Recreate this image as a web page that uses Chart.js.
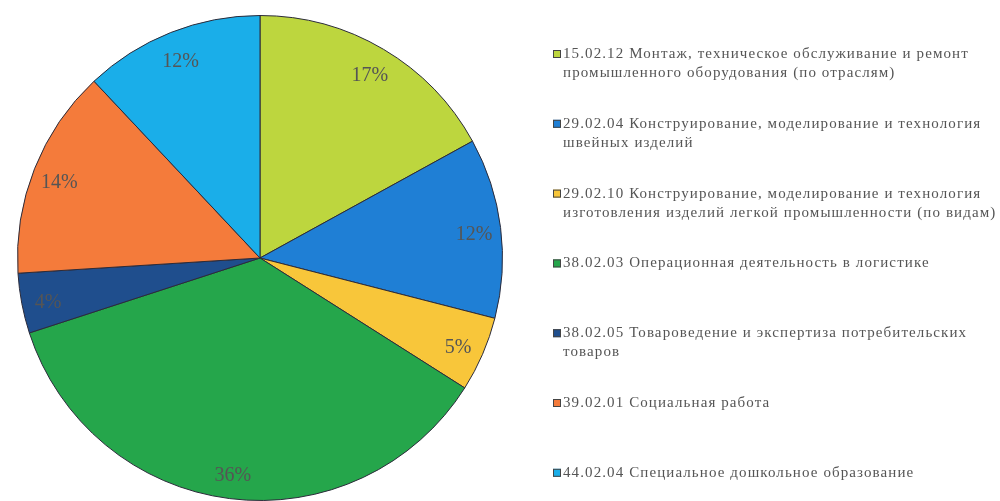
<!DOCTYPE html>
<html>
<head>
<meta charset="utf-8">
<script src="https://cdn.jsdelivr.net/npm/chart.js@4"></script>
<style>
  html, body { margin: 0; padding: 0; background: #fff; }
  #wrap { width: 1000px; height: 501px; position: relative; }
</style>
</head>
<body>
<div id="wrap"><canvas id="pieChart" width="1000" height="501"></canvas></div>
<script>
// Data
const categories = [
    ["15.02.12 Монтаж, техническое обслуживание и ремонт", "промышленного оборудования (по отраслям)"],
    ["29.02.04 Конструирование, моделирование и технология", "швейных изделий"],
    ["29.02.10 Конструирование, моделирование и технология", "изготовления изделий легкой промышленности (по видам)"],
    ["38.02.03 Операционная деятельность в логистике"],
    ["38.02.05 Товароведение и экспертиза потребительских", "товаров"],
    ["39.02.01 Социальная работа"],
    ["44.02.04 Специальное дошкольное образование"]
];
const shares = [17, 12, 5, 36, 4, 14, 12];
const colors = ["#BDD63E", "#1F7FD5", "#F8C63A", "#25A64B", "#1F4E8D", "#F47B3B", "#1AAEE9"];

const serif = '"Liberation Serif", "DejaVu Serif", serif';

// percent labels on the slices
const sliceLabels = {
    id: "sliceLabels",
    afterDatasetsDraw(chart) {
        const ctx = chart.ctx;
        const meta = chart.getDatasetMeta(0);
        ctx.save();
        ctx.font = "20px " + serif;
        ctx.fillStyle = "#555";
        ctx.textAlign = "center";
        ctx.textBaseline = "middle";
        meta.data.forEach((arc, i) => {
            const p = arc.getProps(["x", "y", "startAngle", "endAngle", "outerRadius"], true);
            const mid = (p.startAngle + p.endAngle) / 2;
            const r = p.outerRadius * 0.89;
            ctx.fillText(shares[i] + "%", p.x + Math.cos(mid) * r, p.y + Math.sin(mid) * r + 4);
        });
        ctx.restore();
    }
};

// legend on the right with wrapped lines
const sideLegend = {
    id: "sideLegend",
    afterDraw(chart) {
        const ctx = chart.ctx;
        const labels = chart.data.labels;
        const bg = chart.data.datasets[0].backgroundColor;
        const left = 553;
        const top = 54;
        const step = 69.8;
        const lineH = 19;
        ctx.save();
        ctx.font = "15px " + serif;
        ctx.letterSpacing = "1.1px";
        ctx.textBaseline = "middle";
        labels.forEach((lines, i) => {
            const y = top + i * step;
            ctx.fillStyle = bg[i];
            ctx.fillRect(left, y - 4, 8, 8);
            ctx.strokeStyle = "#444";
            ctx.lineWidth = 1;
            ctx.strokeRect(left + 0.5, y - 3.5, 7, 7);
            ctx.fillStyle = "#555";
            lines.forEach((t, k) => {
                ctx.fillText(t, left + 10, y + k * lineH);
            });
        });
        ctx.restore();
    }
};

new Chart(document.getElementById("pieChart").getContext("2d"), {
    type: "pie",
    data: {
        labels: categories,
        datasets: [{
            data: shares,
            backgroundColor: colors,
            borderColor: "#2b2b3a",
            borderWidth: 1
        }]
    },
    options: {
        responsive: false,
        animation: false,
        layout: { padding: { left: 17, right: 497, top: 15, bottom: 0 } },
        plugins: {
            legend: { display: false },
            tooltip: { enabled: false }
        }
    },
    plugins: [sliceLabels, sideLegend]
});
</script>
</body>
</html>
